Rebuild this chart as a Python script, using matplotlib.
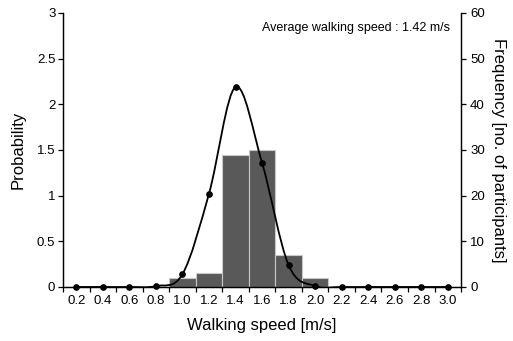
import matplotlib.pyplot as plt
from matplotlib.path import Path
from matplotlib.patches import PathPatch
import numpy as np

plt.rcParams['font.family'] = ['Liberation Sans', 'DejaVu Sans']

# data
speed_labels = ['0.2', '0.4', '0.6', '0.8', '1.0', '1.2', '1.4', '1.6',
                '1.8', '2.0', '2.2', '2.4', '2.6', '2.8', '3.0']
frequency = [0, 0, 0, 0, 2, 3, 29, 30, 7, 2, 0, 0, 0, 0, 0]
probability = [0, 0, 0, 0.01, 0.14, 1.02, 2.19, 1.36, 0.24, 0.01, 0, 0, 0, 0, 0]
avg_text = 'Average walking speed : 1.42 m/s'

x = np.arange(len(speed_labels))

fig = plt.figure(figsize=(5.13, 3.41), dpi=100)
ax = fig.add_axes([0.1228, 0.1584, 0.776, 0.8035])
ax2 = ax.twinx()

# histogram bars on the frequency axis
ax2.bar(x, frequency, width=1.0, color='#595959', edgecolor='#c8c8c8', linewidth=0.8)
ax2.set_ylim(0, 60)
ax2.set_yticks(range(0, 61, 10))

# smooth line (Excel style bezier through the points) on the probability axis
pts = np.column_stack([x, probability]).astype(float)
padded = np.vstack([pts[0], pts, pts[-1]])
verts = [tuple(pts[0])]
codes = [Path.MOVETO]
for i in range(len(pts) - 1):
    p0, p1, p2, p3 = padded[i], padded[i + 1], padded[i + 2], padded[i + 3]
    c1 = p1 + (p2 - p0) / 6
    c2 = p2 - (p3 - p1) / 6
    verts += [tuple(c1), tuple(c2), tuple(p2)]
    codes += [Path.CURVE4] * 3
ax.add_patch(PathPatch(Path(verts, codes), facecolor='none', edgecolor='black', lw=1.3))
ax.plot(x, probability, 'o', color='black', ms=3.8, clip_on=False, zorder=5)

ax.set_zorder(ax2.get_zorder() + 1)
ax.patch.set_visible(False)

ax.set_xlim(-0.5, len(x) - 0.5)
ax.set_ylim(0, 3)
ax.set_yticks(np.arange(0, 3.01, 0.5))
ax.set_yticklabels(['0', '0.5', '1', '1.5', '2', '2.5', '3'])

# tick marks at category edges, labels at centres
ax.set_xticks(np.arange(-0.5, len(x), 1.0))
ax.set_xticklabels([])
ax.set_xticks(x, minor=True)
ax.set_xticklabels(speed_labels, minor=True)
ax.tick_params(axis='x', which='major', direction='out', length=3.5, width=0.9)
ax.tick_params(axis='x', which='minor', length=0, pad=6, labelsize=9.5)
ax.tick_params(axis='y', direction='out', length=3.5, width=0.9, labelsize=9.5, pad=2)
ax2.tick_params(axis='y', direction='out', length=3.5, width=0.9, labelsize=9.5, pad=3)

for a in (ax, ax2):
    a.spines['top'].set_visible(False)
    for s in ('left', 'right', 'bottom'):
        a.spines[s].set_linewidth(0.9)

ax.set_xlabel('Walking speed [m/s]', fontsize=12, labelpad=8)
ax.set_ylabel('Probability', fontsize=12, labelpad=8)
ax2.set_ylabel('Frequency [no. of participants]', fontsize=12, rotation=-90, labelpad=15)

ax.text(0.972, 0.945, avg_text, transform=ax.transAxes, ha='right', va='center', fontsize=9)

plt.savefig('out.png', dpi=100)
